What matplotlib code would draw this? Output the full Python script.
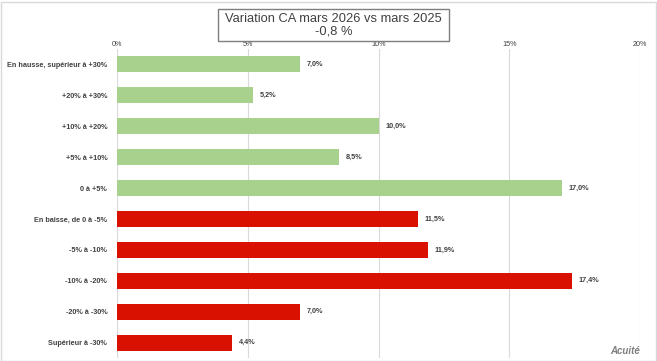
import matplotlib.pyplot as plt
from matplotlib.patches import Rectangle

categories = ['En hausse, supérieur à +30%', '+20% à +30%', '+10% à +20%', '+5% à +10%',
              '0 à +5%', 'En baisse, de 0 à -5%', '-5% à -10%', '-10% à -20%',
              '-20% à -30%', 'Supérieur à -30%']
values = [7.0, 5.2, 10.0, 8.5, 17.0, 11.5, 11.9, 17.4, 7.0, 4.4]
colors = ['#A9D18E'] * 5 + ['#D91100'] * 5
ticks = [0, 5, 10, 15, 20]

plt.rcParams['font.family'] = ['Liberation Sans', 'DejaVu Sans']
txt = '#404040'

fig = plt.figure(figsize=(6.57, 3.61), dpi=100)
ax = fig.add_axes([117/657, 3/361, 523/657, 309/361])

y = list(range(len(categories)))
ax.barh(y, values, height=0.52, color=colors, zorder=3)
for yi, v in zip(y, values):
    ax.text(v + 0.25, yi, ('%.1f%%' % v).replace('.', ','), va='center', ha='left',
            fontsize=5.2, fontweight='bold', color=txt)

ax.set_xlim(0, 20)
ax.set_ylim(len(categories) - 0.5, -0.5)
ax.set_yticks(y)
ax.set_yticklabels(categories, fontsize=5.2, fontweight='bold', color=txt)
ax.set_xticks(ticks)
ax.set_xticklabels(['%d%%' % t for t in ticks], fontsize=5.2, color=txt)
ax.xaxis.tick_top()
ax.tick_params(axis='x', length=0, pad=0.5)
ax.tick_params(axis='y', length=0, pad=7)
ax.grid(axis='x', color='#D9D9D9', linewidth=0.8, zorder=0)
for s in ax.spines.values():
    s.set_visible(False)

# title box
fig.patches.append(Rectangle((218/657, 1 - 41/361), 231/657, 32/361, transform=fig.transFigure,
                             facecolor='white', edgecolor='#7F7F7F', linewidth=1))
fig.text(333.5/657, 1 - 25/361, 'Variation CA mars 2026 vs mars 2025\n-0,8 %', ha='center',
         va='center', fontsize=9.3, color='#404040', linespacing=1.0)

# outer frame
fig.patches.append(Rectangle((0.5/657, 0.5/361), 655/657, 359/361, transform=fig.transFigure,
                             facecolor='none', edgecolor='#D9D9D9', linewidth=1))

fig.text(640/657, 1 - 351/361, 'Acuité', ha='right', va='center', fontsize=7,
         fontweight='bold', fontstyle='italic', color='#7F7F7F')

fig.savefig('out.png', dpi=100)
